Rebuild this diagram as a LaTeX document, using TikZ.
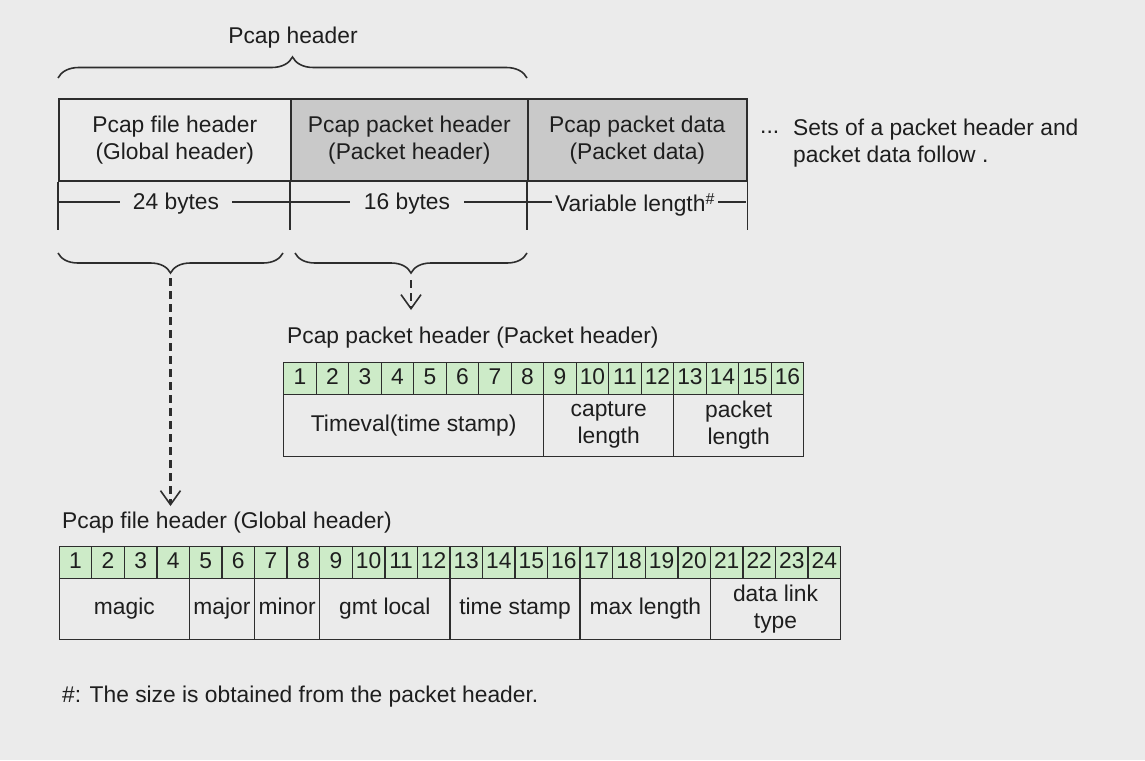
\documentclass[tikz,border=0pt]{standalone}
\usepackage{fontspec}
\setmainfont{Liberation Sans}
\usetikzlibrary{decorations.pathreplacing,arrows.meta,calc}
\definecolor{bg}{RGB}{235,235,235}
\definecolor{hdrgray}{RGB}{201,201,201}
\definecolor{cellgreen}{RGB}{205,235,200}
\definecolor{ink}{RGB}{30,30,30}
\definecolor{linec}{RGB}{45,45,45}
\tikzset{
  txt/.style={font=\fontsize{22.8}{27}\selectfont, text=ink, inner sep=0pt},
  fixedline/.style={text height=16.5pt, text depth=4.8pt},
  topcell/.style={txt, draw=linec, line width=1.6pt, align=center, anchor=north west, minimum height=82pt},
  bytelbl/.style={txt, fixedline, fill=bg, inner ysep=1pt},
  numcell/.style={txt, fixedline, draw=linec, line width=1.4pt, fill=cellgreen, anchor=north west, minimum height=32pt},
  fieldcell/.style={txt, draw=linec, line width=1.4pt, fill=bg, align=center, anchor=north west, minimum height=61.5pt},
  bracestyle/.style={draw=linec, line width=1.6pt, decorate},
  dasharrow/.style={draw=linec, line width=2.3pt, dash pattern=on 8pt off 5pt,
     -{Straight Barb[length=14pt,width=20pt,line width=1.6pt]}},
  plainline/.style={draw=linec, line width=1.6pt}
}
\begin{document}
\begin{tikzpicture}[x=1pt,y=-1pt]
\fill[bg] (0,0) rectangle (1145,760);
\useasboundingbox (0,0) rectangle (1145,760);

% ---- top structure ----
\node[txt] (pcaphdr) at (293,38) {Pcap header};
\draw[bracestyle, decoration={brace, amplitude=21pt}] (58,78) -- (527,78);

\node[topcell, fill=bg, minimum width=232pt] (fh) at (58,98) {Pcap file header\\(Global header)};
\node[topcell, fill=hdrgray, minimum width=237pt] (ph) at (290,98) {Pcap packet header\\(Packet header)};
\node[topcell, fill=hdrgray, minimum width=219pt] (pd) at (527,98) {Pcap packet data\\(Packet data)};

\draw[plainline] (fh.south west) -- ++(0,48);
\draw[plainline] (ph.south west) -- ++(0,48);
\draw[plainline] (pd.south west) -- ++(0,48);
\draw[plainline] (pd.south east) -- ++(0,48);
\draw[plainline] (58,202) -- (746,202);

\node[bytelbl, inner xsep=13pt] (b24) at (176,204) {24 bytes};
\node[bytelbl, inner xsep=14pt] (b16) at (407,204) {16 bytes};
\node[bytelbl, inner xsep=3pt] (bvar) at (635,206) {Variable length\textsuperscript{\#}};

\node[txt, anchor=west] (dots) at (760,132) {...};
\node[txt, anchor=north west, align=left] (follow) at (793,119) {Sets of a packet header and\\packet data follow .};

% ---- lower braces and arrows ----
\draw[bracestyle, decoration={brace, mirror, amplitude=20pt}] (58,253) -- (283,253);
\draw[bracestyle, decoration={brace, mirror, amplitude=20pt}] (295,253) -- (527,253);
\coordinate (tipL) at (170.5,278);
\coordinate (tipR) at (411,280);
\coordinate (endL) at (170.5,506);
\coordinate (endR) at (411,310);
\draw[dasharrow] (tipL) -- (endL);
\draw[dasharrow] (tipR) -- (endR);

% ---- packet header table ----
\node[txt, anchor=west] (plbl) at (287,338) {Pcap packet header (Packet header)};
\foreach \i in {1,...,16}{
  \node[numcell, minimum width=32.5pt] (p\i) at ({283+(\i-1)*32.5},362) {\i};
}
\node[fieldcell, fixedline, minimum width=260pt] (ptv) at (283,394) {Timeval(time stamp)};
\node[fieldcell, minimum width=130pt] (pcl) at (543,394) {capture\\length};
\node[fieldcell, minimum width=130pt] (ppl) at (673,394) {packet\\length};

% ---- global header table ----
\node[txt, anchor=west] (glbl) at (62,523) {Pcap file header (Global header)};
\foreach \i in {1,...,24}{
  \node[numcell, minimum width=32.56pt] (g\i) at ({58.5+(\i-1)*32.56},545.5) {\i};
}
\node[fieldcell, fixedline, minimum width=130.24pt] (gmag) at (58.5,577.5) {magic};
\node[fieldcell, fixedline, minimum width=65.12pt] (gmaj) at (188.74,577.5) {major};
\node[fieldcell, fixedline, minimum width=65.12pt] (gmin) at (253.86,577.5) {minor};
\node[fieldcell, fixedline, minimum width=130.24pt] (ggmt) at (318.98,577.5) {gmt local};
\node[fieldcell, fixedline, minimum width=130.24pt] (gts) at (449.22,577.5) {time stamp};
\node[fieldcell, fixedline, minimum width=130.24pt] (gmax) at (579.46,577.5) {max length};
\node[fieldcell, minimum width=130.24pt] (gdlt) at (709.7,577.5) {data link\\type};

% ---- footnote ----
\node[txt, anchor=west] (note) at (62,697) {\#: The size is obtained from the packet header.};
\end{tikzpicture}
\end{document}
